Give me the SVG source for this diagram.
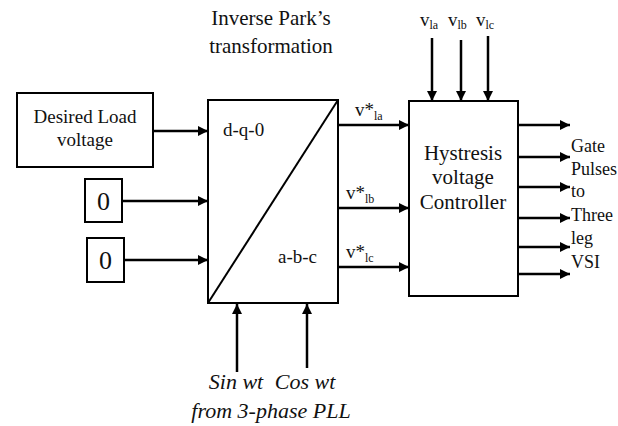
<svg xmlns="http://www.w3.org/2000/svg" width="618" height="426" viewBox="0 0 618 426">
<defs>
<marker id="ah" viewBox="0 0 10 10" refX="10" refY="5" markerWidth="10" markerHeight="10" markerUnits="userSpaceOnUse" orient="auto">
<path d="M0,0 L10,5 L0,10 z" fill="#000"/>
</marker>
</defs>
<style>
.box{fill:#fff;stroke:#000;stroke-width:2}
.ln{stroke:#000;stroke-width:2.5;fill:none;marker-end:url(#ah)}
text{font-family:"Times New Roman",Tinos,"Liberation Serif","DejaVu Serif","Noto Serif",FreeSerif,serif;fill:#111}
.t{font-size:21px}
.z{font-size:26px}
.s{font-size:19px}
.r{font-size:18px}
.i{font-style:italic;font-size:22px}
.sub{font-size:12px}
</style>
<rect width="618" height="426" fill="#fff"/>
<text class="t" x="271" y="25" text-anchor="middle">Inverse Park’s</text>
<text class="t" x="271" y="53" text-anchor="middle">transformation</text>
<g id="desired">
<rect class="box" x="17" y="93" width="136" height="74"/>
<text class="s" x="85" y="123" text-anchor="middle">Desired Load</text>
<text class="s" x="85" y="146" text-anchor="middle">voltage</text>
</g>
<g id="zero1">
<rect class="box" x="85" y="179" width="37" height="43"/>
<text class="z" x="103.5" y="210" text-anchor="middle">0</text>
</g>
<g id="zero2">
<rect class="box" x="87" y="238" width="37" height="44"/>
<text class="z" x="105.5" y="269" text-anchor="middle">0</text>
</g>
<g id="park">
<rect class="box" x="208" y="100" width="130" height="203"/>
<line x1="208" y1="303" x2="338" y2="100" stroke="#000" stroke-width="2"/>
<text class="s" x="223" y="136">d-q-0</text>
<text class="s" x="278" y="263">a-b-c</text>
</g>
<g id="hyst">
<rect class="box" x="409" y="101" width="109" height="195"/>
<text class="t" x="463" y="160" text-anchor="middle">Hystresis</text>
<text class="t" x="463" y="184" text-anchor="middle">voltage</text>
<text class="t" x="463" y="209" text-anchor="middle">Controller</text>
</g>
<g id="labels">
<text class="s" x="355" y="116">v*<tspan class="sub" dy="4">la</tspan></text>
<text class="s" x="346" y="199">v*<tspan class="sub" dy="4">lb</tspan></text>
<text class="s" x="346" y="258">v*<tspan class="sub" dy="4">lc</tspan></text>
<text class="s" x="420" y="26">v<tspan class="sub" dy="3">la</tspan></text>
<text class="s" x="448" y="26">v<tspan class="sub" dy="3">lb</tspan></text>
<text class="s" x="476" y="26">v<tspan class="sub" dy="3">lc</tspan></text>
<text class="r" x="571" y="152">Gate</text>
<text class="r" x="571" y="175">Pulses</text>
<text class="r" x="571" y="197">to</text>
<text class="r" x="571" y="221">Three</text>
<text class="r" x="571" y="244">leg</text>
<text class="r" x="571" y="268">VSI</text>
<text class="i" x="236" y="389" text-anchor="middle">Sin wt</text>
<text class="i" x="305" y="389" text-anchor="middle">Cos wt</text>
<text class="i" x="271" y="418" text-anchor="middle">from 3-phase PLL</text>
</g>
<g id="connectors">
<line class="ln" x1="153" y1="131" x2="208" y2="131"/>
<line class="ln" x1="122" y1="201" x2="208" y2="201"/>
<line class="ln" x1="124" y1="260" x2="208" y2="260"/>
<line class="ln" x1="338" y1="125" x2="409" y2="125"/>
<line class="ln" x1="338" y1="208" x2="409" y2="208"/>
<line class="ln" x1="338" y1="267" x2="409" y2="267"/>
<line class="ln" x1="432" y1="38" x2="432" y2="101"/>
<line class="ln" x1="461" y1="40" x2="461" y2="101"/>
<line class="ln" x1="488" y1="36" x2="488" y2="101"/>
<line class="ln" x1="518" y1="125" x2="570" y2="125"/>
<line class="ln" x1="518" y1="157" x2="570" y2="157"/>
<line class="ln" x1="518" y1="187" x2="570" y2="187"/>
<line class="ln" x1="518" y1="218" x2="570" y2="218"/>
<line class="ln" x1="518" y1="247" x2="570" y2="247"/>
<line class="ln" x1="518" y1="274" x2="570" y2="274"/>
<line class="ln" x1="237" y1="372" x2="237" y2="304"/>
<line class="ln" x1="307" y1="368" x2="307" y2="304"/>
</g>
</svg>
